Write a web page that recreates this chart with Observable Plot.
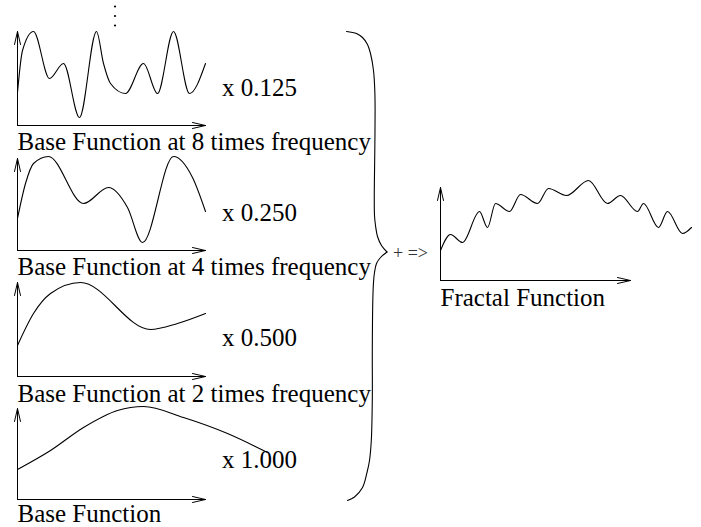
<!DOCTYPE html>
<html>
<head>
<meta charset="utf-8">
<script src="https://cdn.jsdelivr.net/npm/d3@7"></script>
<script src="https://cdn.jsdelivr.net/npm/@observablehq/plot@0.6"></script>
<style>
  html, body { margin: 0; padding: 0; background: #fff; }
  #chart { width: 701px; height: 527px; }
</style>
</head>
<body>
<div id="chart"></div>
<script>
// ---- Curve values: [position along axis, height above axis] ----
const base8 = [[0,33],[5,75],[16,94],[32,47],[46,62],[62,8],[79,94],[86,62],[93,42],[108,32],[126,62],[140,32],[156,94],[172,32],[188,62]];
const base4 = [[0,32],[8,67],[16,87],[31,94],[66,47],[91,63],[110,43],[125,8],[156,94],[175,73],[188,39]];
const base2 = [[0,31],[16,63],[33,83],[63,94],[133,47],[160,53],[188,63]];
const base1 = [[0,30],[33,49],[66,72],[100,89],[126,93],[166,82],[210,66],[250,47]];
const fractal = [[0,30],[10,46],[22,38],[39,69],[47,53],[55,77],[69,69],[80,86],[97,77],[108,92],[126,85],[148,100],[167,77],[180,85],[197,69],[203,77],[218,53],[227,69],[242,47],[251,53]];

// ---- Texts ----
const multipliers = ["x 0.125", "x 0.250", "x 0.500", "x 1.000"];
const captions = ["Base Function at 8 times frequency", "Base Function at 4 times frequency", "Base Function at 2 times frequency", "Base Function"];
const resultCaption = "Fractal Function";
const sumText = "+ =>";

// ---- Brace shape (two arms meeting at the point) ----
const braceUpper = [[346,31],[356,33],[362,37],[367,44],[370,53],[373,70],[374.3,90],[374.6,110],[374.3,150],[373.8,190],[374,215],[375,225],[377,236],[381,245],[386.5,251.5]];
const braceLower = [[386.5,251.5],[380,257],[376,263],[374,272],[373,282],[372.3,300],[371.8,350],[371.8,400],[370.8,440],[369,460],[366.5,472],[362,487],[354,496.5],[347,500]];

// ---- Layout of the panels (figure units) ----
const layout = [
  {curve: base8, ox: 17, oy: 125, xLen: 188, yLen: 94, multY: 95,  capY: 149},
  {curve: base4, ox: 17, oy: 250, xLen: 188, yLen: 92, multY: 220, capY: 274},
  {curve: base2, ox: 17, oy: 376, xLen: 188, yLen: 94, multY: 345, capY: 401},
  {curve: base1, ox: 17, oy: 499, xLen: 188, yLen: 91, multY: 467, capY: 521}
];
const result = {curve: fractal, ox: 440, oy: 280, xLen: 190, yLen: 93, capY: 305};
const allPanels = [...layout, result];

const curvePoints = allPanels.flatMap((p, i) =>
  p.curve.map(([u, v]) => ({panel: i, x: p.ox + u, y: p.oy - v})));

const axes = allPanels.flatMap(p => [
  {x1: p.ox, y1: p.oy, x2: p.ox + p.xLen, y2: p.oy},
  {x1: p.ox, y1: p.oy, x2: p.ox, y2: p.oy - p.yLen}
]);

const texts = [
  ...layout.map((p, i) => ({x: 221.5, y: p.multY, text: multipliers[i]})),
  ...layout.map((p, i) => ({x: p.ox, y: p.capY, text: captions[i]})),
  {x: result.ox, y: result.capY, text: resultCaption}
];

const ellipsis = [{x: 114.5, y: 6}, {x: 114.5, y: 15.5}, {x: 114.5, y: 25}];

const font = "Liberation Serif";

const chart = Plot.plot({
  width: 701,
  height: 527,
  margin: 0,
  style: {background: "white"},
  x: {domain: [0, 701], range: [0, 701], axis: null},
  y: {domain: [0, 527], range: [0, 527], axis: null},
  marks: [
    Plot.arrow(axes, {x1: "x1", y1: "y1", x2: "x2", y2: "y2", stroke: "black", strokeWidth: 1, headAngle: 26, headLength: 20}),
    Plot.line(curvePoints, {x: "x", y: "y", z: "panel", curve: "monotone-x", stroke: "black", strokeWidth: 1.1}),
    Plot.line(braceUpper, {x: d => d[0], y: d => d[1], curve: "catmull-rom", stroke: "black", strokeWidth: 1.1}),
    Plot.line(braceLower, {x: d => d[0], y: d => d[1], curve: "catmull-rom", stroke: "black", strokeWidth: 1.1}),
    Plot.dot(ellipsis, {x: "x", y: "y", r: 1.1, fill: "black", stroke: null}),
    Plot.text(texts, {x: "x", y: "y", text: "text", textAnchor: "start", lineAnchor: "bottom", fontSize: 25, fontFamily: font, fill: "black"}),
    Plot.text([sumText], {x: () => 392.5, y: () => 258, text: d => d, textAnchor: "start", lineAnchor: "bottom", fontSize: 18, fontFamily: font, fill: "#333"})
  ]
});
document.getElementById("chart").appendChild(chart);
</script>
</body>
</html>
